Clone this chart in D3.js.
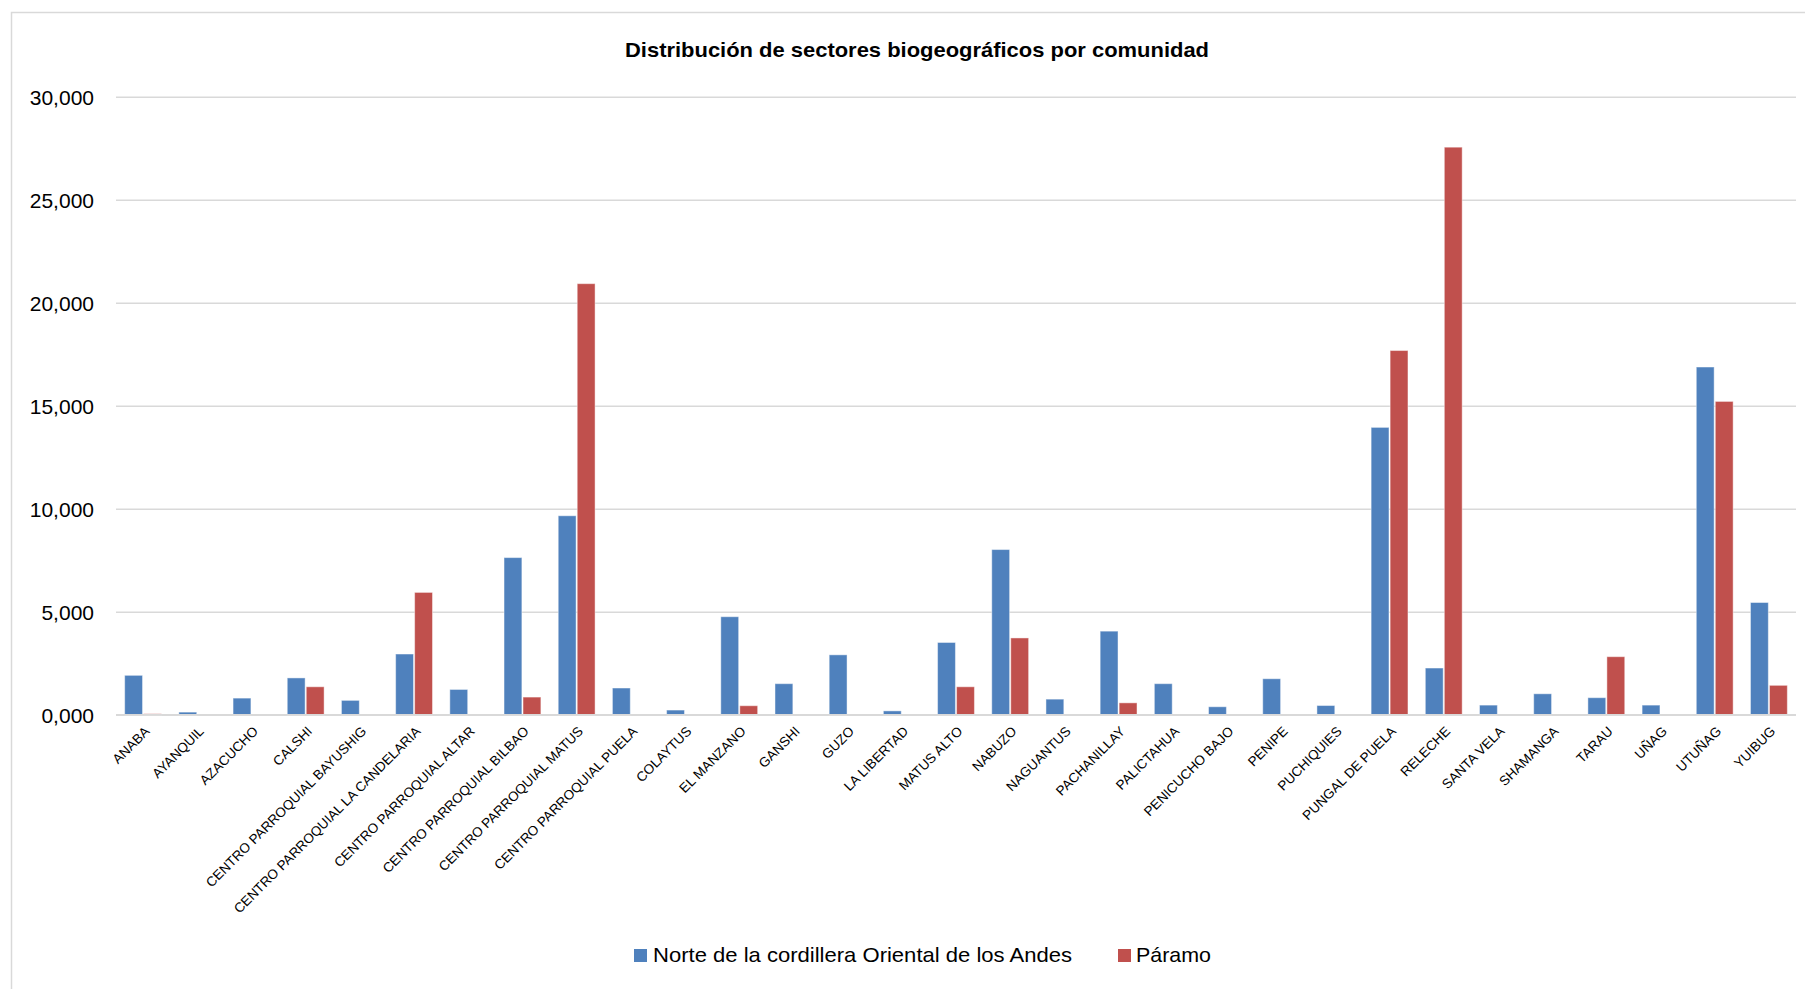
<!DOCTYPE html>
<html>
<head>
<meta charset="utf-8">
<script src="https://cdn.jsdelivr.net/npm/d3@7"></script>
<style>
  html, body { margin: 0; padding: 0; background: #fff; }
  svg { display: block; }
</style>
</head>
<body>
<svg id="chart" width="1805" height="989"></svg>
<script>
const categories = ["ANABA","AYANQUIL","AZACUCHO","CALSHI","CENTRO PARROQUIAL BAYUSHIG","CENTRO PARROQUIAL LA CANDELARIA","CENTRO PARROQUIAL ALTAR","CENTRO PARROQUIAL BILBAO","CENTRO PARROQUIAL MATUS","CENTRO PARROQUIAL PUELA","COLAYTUS","EL MANZANO","GANSHI","GUZO","LA LIBERTAD","MATUS ALTO","NABUZO","NAGUANTUS","PACHANILLAY","PALICTAHUA","PENICUCHO BAJO","PENIPE","PUCHIQUIES","PUNGAL DE PUELA","RELECHE","SANTA VELA","SHAMANGA","TARAU","UÑAG","UTUÑAG","YUIBUG"];
const seriesNames = ["Norte de la cordillera Oriental de los Andes", "Páramo"];
const norteValues = [1915,130,810,1790,700,2950,1230,7630,9660,1300,230,4760,1510,2910,190,3510,8020,760,4060,1510,390,1750,450,13950,2270,470,1020,830,470,16880,5450];
const paramoValues = [50,0,0,1360,0,5940,0,860,20925,0,0,440,0,0,0,1360,3730,0,580,0,0,0,0,17680,27550,0,0,2820,0,15210,1430];
const yTickValues = [0,5000,10000,15000,20000,25000,30000];
const yTickLabels = ["0,000","5,000","10,000","15,000","20,000","25,000","30,000"];
const title = "Distribución de sectores biogeográficos por comunidad";
const colors = ["#4F81BD", "#C0504D"];

const svg = d3.select("#chart");
const font = "'Liberation Sans', Arial, sans-serif";

// chart border
svg.append("rect").attr("x", 11.5).attr("y", 12.5).attr("width", 1805).attr("height", 1000)
  .attr("fill", "none").attr("stroke", "#D9D9D9").attr("stroke-width", 1.5);

const plotLeft = 116, plotRight = 1796, plotTop = 96.7, plotBottom = 714.8;

const y = d3.scaleLinear().domain([0, 30000]).range([plotBottom, plotTop]);
const x0 = d3.scaleBand().domain(categories).range([plotLeft, plotRight]).paddingInner(0).paddingOuter(0);
const bw = x0.bandwidth();
const x1 = d3.scaleBand().domain([0, 1]).range([bw * 0.16, bw * 0.84]).paddingInner(0.06);

// gridlines
const yAxis = d3.axisLeft(y).tickValues(yTickValues)
  .tickSize(-(plotRight - plotLeft))
  .tickFormat((d, i) => yTickLabels[i]);
const gy = svg.append("g").attr("transform", `translate(${plotLeft},0)`).call(yAxis);
gy.select(".domain").remove();
gy.selectAll(".tick line").attr("stroke", "#D9D9D9").attr("stroke-width", 1.6);
gy.selectAll(".tick text").attr("x", -22).attr("font-family", font).attr("font-size", 21)
  .attr("fill", "#000").attr("dy", "0.36em");

// bars
const rows = categories.map((c, i) => ({ cat: c, vals: [norteValues[i], paramoValues[i]] }));
const groups = svg.append("g").selectAll("g").data(rows).join("g")
  .attr("transform", d => `translate(${x0(d.cat)},0)`);
groups.selectAll("rect").data(d => d.vals.map((v, k) => ({ v, k })).filter(e => e.v > 0)).join("rect")
  .attr("x", e => x1(e.k))
  .attr("width", x1.bandwidth())
  .attr("y", e => y(e.v))
  .attr("height", e => y(0) - y(e.v))
  .attr("fill", e => colors[e.k])
  .attr("stroke", "rgba(255,255,255,0.45)")
  .attr("stroke-width", 1);

// axis baseline
svg.append("line").attr("x1", plotLeft).attr("x2", plotRight).attr("y1", y(0)).attr("y2", y(0))
  .attr("stroke", "#D9D9D9").attr("stroke-width", 1.6);

// x labels
const xAxis = d3.axisBottom(x0).tickSize(0);
const gx = svg.append("g").attr("transform", `translate(0,${plotBottom})`).call(xAxis);
gx.select(".domain").remove();
gx.selectAll(".tick text")
  .attr("font-family", font).attr("font-size", 13.5).attr("fill", "#000")
  .attr("text-anchor", "end")
  .attr("dy", "0.35em").attr("y", 0)
  .attr("transform", "translate(4,14) rotate(-45)");

// title
svg.append("text").attr("x", 917).attr("y", 57).attr("text-anchor", "middle")
  .attr("font-family", font).attr("font-weight", "bold").attr("font-size", 21)
  .attr("textLength", 584).attr("lengthAdjust", "spacingAndGlyphs")
  .text(title);

// legend
const legendItems = [
  { name: seriesNames[0], color: colors[0], sx: 634, tx: 653, w: 419 },
  { name: seriesNames[1], color: colors[1], sx: 1118, tx: 1136, w: 75 }
];
const lg = svg.append("g");
legendItems.forEach(it => {
  lg.append("rect").attr("x", it.sx).attr("y", 949).attr("width", 13).attr("height", 13).attr("fill", it.color);
  lg.append("text").attr("x", it.tx).attr("y", 962).attr("font-family", font).attr("font-size", 21)
    .attr("textLength", it.w).attr("lengthAdjust", "spacingAndGlyphs").attr("fill", "#000").text(it.name);
});
</script>
</body>
</html>
